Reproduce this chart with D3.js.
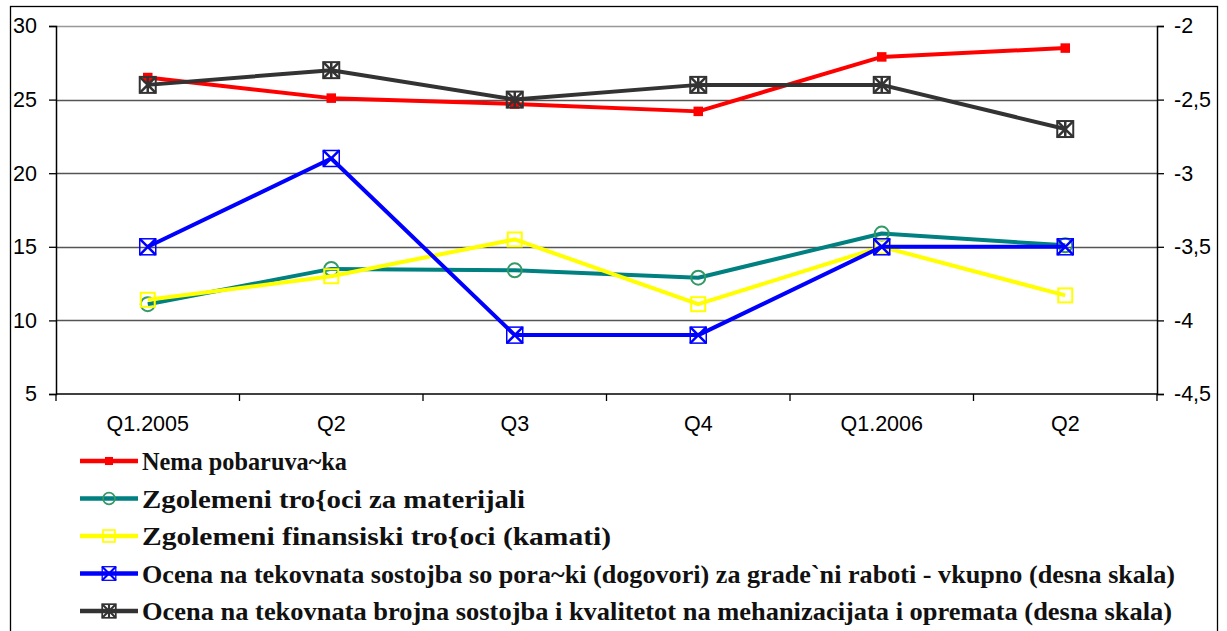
<!DOCTYPE html>
<html>
<head>
<meta charset="utf-8">
<script src="https://d3js.org/d3.v7.min.js"></script>
<style>
  body { margin: 0; background: #fff; }
  svg { display: block; }
  .tick text { font-family: "Liberation Sans", Arial, sans-serif; font-size: 21.5px; fill: #000; }
  .legend text { font-family: "Liberation Serif", "Times New Roman", serif; font-size: 25px; font-weight: bold; fill: #111; }
</style>
</head>
<body>
<div id="chart"></div>
<script>
var categories = ["Q1.2005", "Q2", "Q3", "Q4", "Q1.2006", "Q2"];

// left scale
var nemaPobaruvacka = [26.5, 25.1, 24.7, 24.2, 27.9, 28.5];
var trosociMaterijali = [11.1, 13.5, 13.4, 12.9, 15.9, 15.1];
var finansiskiTrosoci = [11.4, 13.0, 15.5, 11.1, 15.0, 11.7];
// right scale
var poracki = [-3.5, -2.9, -4.1, -4.1, -3.5, -3.5];
var mehanizacija = [-2.4, -2.3, -2.5, -2.4, -2.4, -2.7];

var leftTicks = [5, 10, 15, 20, 25, 30];
var rightTicks = [-4.5, -4, -3.5, -3, -2.5, -2];

var seriesNames = [
    "Nema pobaruva~ka",
    "Zgolemeni tro{oci za materijali",
    "Zgolemeni finansiski tro{oci (kamati)",
    "Ocena na tekovnata sostojba so pora~ki (dogovori) za grade`ni raboti - vkupno (desna skala)",
    "Ocena na tekovnata brojna sostojba i kvalitetot na mehanizacijata i opremata (desna skala)"
];

var width = 1227, height = 631;
var plotL = 56, plotR = 1157, plotT = 26, plotB = 394;

var svg = d3.select("#chart").append("svg")
    .attr("width", width)
    .attr("height", height);

// outer frame
svg.append("rect")
    .attr("x", 10.5).attr("y", 6.5)
    .attr("width", 1207).attr("height", 640)
    .attr("fill", "none").attr("stroke", "#000").attr("stroke-width", 1.3);

var x = d3.scaleBand().domain(d3.range(categories.length)).range([plotL, plotR]);
var yL = d3.scaleLinear().domain([5, 30]).range([plotB, plotT]);
var yR = d3.scaleLinear().domain([-4.5, -2]).range([plotB, plotT]);
var cx = function(i) { return x(i) + x.bandwidth() / 2; };

var comma = function(d) { return String(d).replace(".", ","); };

// gridlines
svg.append("g").selectAll("line")
    .data(leftTicks.filter(function(d) { return d > 5; }))
    .enter().append("line")
    .attr("x1", plotL).attr("x2", plotR)
    .attr("y1", function(d) { return Math.round(yL(d)) + 0.5; })
    .attr("y2", function(d) { return Math.round(yL(d)) + 0.5; })
    .attr("stroke", function(d) { return d == 30 ? "#999" : "#555"; })
    .attr("stroke-width", 1.5);

// axes
var leftAxis = svg.append("g")
    .attr("transform", "translate(" + plotL + ",0)")
    .call(d3.axisLeft(yL).tickValues(leftTicks).tickSize(7).tickPadding(12).tickFormat(d3.format("d")));
var rightAxis = svg.append("g")
    .attr("transform", "translate(" + plotR + ",0)")
    .call(d3.axisRight(yR).tickValues(rightTicks).tickSize(7).tickPadding(10).tickFormat(comma));
[leftAxis, rightAxis].forEach(function(a) {
    a.select(".domain").attr("stroke", "#000").attr("stroke-width", 1.5);
    a.selectAll(".tick line").attr("stroke", "#000").attr("stroke-width", 1.3);
});

var xAxis = svg.append("g")
    .attr("transform", "translate(0," + plotB + ")");
xAxis.append("line")
    .attr("x1", plotL).attr("x2", plotR)
    .attr("stroke", "#000").attr("stroke-width", 1.5);
xAxis.selectAll(".xtick")
    .data(d3.range(categories.length + 1))
    .enter().append("line")
    .attr("x1", function(i) { return i < categories.length ? x(i) : plotR; })
    .attr("x2", function(i) { return i < categories.length ? x(i) : plotR; })
    .attr("y1", 0).attr("y2", 7)
    .attr("stroke", "#000").attr("stroke-width", 1.3);
xAxis.selectAll(".tick")
    .data(categories)
    .enter().append("g").attr("class", "tick")
    .append("text")
    .attr("x", function(d, i) { return cx(i); })
    .attr("y", 37)
    .attr("text-anchor", "middle")
    .text(function(d) { return d; });

// markers
function marker(g, type, color, color2) {
    if (type == "smallsq") {
        g.append("rect").attr("x", -4).attr("y", -4).attr("width", 8).attr("height", 8)
            .attr("fill", color).attr("stroke", color).attr("stroke-width", 1.5);
    } else if (type == "circle") {
        g.append("circle").attr("r", 7).attr("fill", "none")
            .attr("stroke", color).attr("stroke-width", 2);
    } else if (type == "square") {
        g.append("rect").attr("x", -7).attr("y", -7).attr("width", 14).attr("height", 14)
            .attr("fill", "none").attr("stroke", color).attr("stroke-width", 2);
    } else if (type == "xsquare") {
        g.append("rect").attr("x", -8).attr("y", -8).attr("width", 16).attr("height", 16)
            .attr("fill", "none").attr("stroke", color2).attr("stroke-width", 1.5);
        g.append("path").attr("d", "M-8,-8L8,8M-8,8L8,-8")
            .attr("stroke", color).attr("stroke-width", 2.5);
    } else if (type == "star") {
        g.append("rect").attr("x", -8).attr("y", -8).attr("width", 16).attr("height", 16)
            .attr("fill", "none").attr("stroke", color).attr("stroke-width", 2);
        g.append("path").attr("d", "M-8,-8L8,8M-8,8L8,-8M0,-8L0,8")
            .attr("stroke", color).attr("stroke-width", 2.5);
    }
}

var series = [
    {name: seriesNames[0], values: nemaPobaruvacka, y: yL, color: "#ff0000", mcolor: "#ff0000", type: "smallsq"},
    {name: seriesNames[1], values: trosociMaterijali, y: yL, color: "#008080", mcolor: "#339966", type: "circle"},
    {name: seriesNames[2], values: finansiskiTrosoci, y: yL, color: "#ffff00", mcolor: "#ffff00", type: "square"},
    {name: seriesNames[3], values: poracki, y: yR, color: "#0000ff", mcolor: "#0000ff", mcolor2: "#0000ff", type: "xsquare"},
    {name: seriesNames[4], values: mehanizacija, y: yR, color: "#333333", mcolor: "#333333", type: "star"}
];

var plot = svg.append("g");
series.forEach(function(s) {
    var line = d3.line()
        .x(function(d, i) { return cx(i); })
        .y(function(d) { return s.y(d); });
    plot.append("path")
        .datum(s.values)
        .attr("d", line)
        .attr("fill", "none")
        .attr("stroke", s.color)
        .attr("stroke-width", 4)
        .attr("stroke-linejoin", "round");
    plot.selectAll(null)
        .data(s.values)
        .enter().append("g")
        .attr("transform", function(d, i) { return "translate(" + cx(i) + "," + s.y(d) + ")"; })
        .each(function() { marker(d3.select(this), s.type, s.mcolor, s.mcolor2 || "#888"); });
});

// legend
var legendWidths = [205, 383, 469, 1033, 1030];
var legend = svg.append("g").attr("class", "legend");
var row = legend.selectAll("g")
    .data(series)
    .enter().append("g")
    .attr("transform", function(d, i) { return "translate(80," + (461 + i * 37.5) + ")"; });
row.append("line")
    .attr("x1", 0).attr("x2", 58)
    .attr("stroke", function(d) { return d.color; })
    .attr("stroke-width", 4.5);
row.each(function(d) {
    var g = d3.select(this).append("g").attr("transform", "translate(29,0) scale(0.85)");
    marker(g, d.type, d.mcolor, d.mcolor2 || "#888");
});
row.append("text")
    .attr("x", 62)
    .attr("y", 9)
    .attr("textLength", function(d, i) { return legendWidths[i]; })
    .attr("lengthAdjust", "spacingAndGlyphs")
    .text(function(d) { return d.name; });
</script>
</body>
</html>
